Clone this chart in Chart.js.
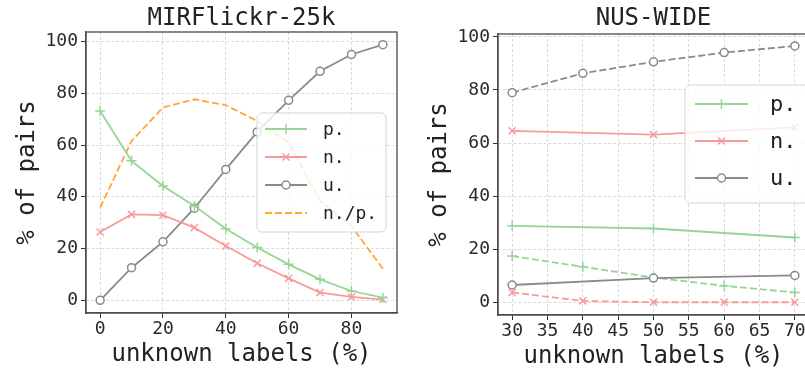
<!DOCTYPE html>
<html>
<head>
<meta charset="utf-8">
<script src="https://cdn.jsdelivr.net/npm/chart.js@4.4.1/dist/chart.umd.min.js"></script>
<style>
  html, body { margin: 0; padding: 0; background: #fff; overflow: hidden; }
  #wrap { position: relative; width: 805px; height: 371px; overflow: hidden; }
  .box { position: absolute; top: 0; width: 483px; height: 371px; }
  #leftBox { left: 0; }
  #rightBox { left: 412px; }
</style>
</head>
<body>
<div id="wrap">
  <div class="box" id="leftBox"><canvas id="mirChart"></canvas></div>
  <div class="box" id="rightBox"><canvas id="nusChart"></canvas></div>
</div>
<script>
// MIRFlickr-25k
const mirX = [0, 10, 20, 30, 40, 50, 60, 70, 80, 90];
const mirPos = [73.2, 53.9, 44.2, 36.5, 27.7, 20.4, 13.9, 8.1, 3.6, 1.0];
const mirNeg = [26.4, 33.2, 32.9, 28.1, 21.0, 14.3, 8.5, 3.0, 1.3, 0.3];
const mirUnk = [0, 12.6, 22.6, 35.6, 50.6, 65.1, 77.3, 88.5, 95.0, 98.8];
const mirRatio = [35.8, 61.6, 74.5, 77.7, 75.4, 69.3, 61.0, 38.4, 28.7, 12.2];
const mirXTicks = [0, 20, 40, 60, 80];

// NUS-WIDE
const nusXSolid = [30, 50, 70];
const nusXDash = [30, 40, 50, 60, 70];
const nusPos = [28.8, 27.8, 24.4];
const nusNeg = [64.6, 63.2, 65.9];
const nusUnk = [6.5, 9.1, 10.1];
const nusPosDash = [17.4, 13.4, 9.3, 6.2, 3.7];
const nusNegDash = [3.7, 0.5, 0, 0, 0];
const nusUnkDash = [79.0, 86.3, 90.6, 94.1, 96.6];
const nusXTicks = [30, 35, 40, 45, 50, 55, 60, 65, 70];

const yTicks = [0, 20, 40, 60, 80, 100];

const GREEN = '#96d596';
const RED = '#f99a9a';
const GRAY = '#8a8a8a';
const ORANGE = '#ffa733';
const FONT = '"DejaVu Sans Mono", monospace';

Chart.defaults.font.family = FONT;
Chart.defaults.color = '#2a2a2a';

const pts = (xs, ys) => xs.map((x, i) => ({ x: x, y: ys[i] }));

function series(label, xs, ys, color, marker, dashed, inLegend) {
    return {
        label: label,
        data: pts(xs, ys),
        borderColor: color,
        borderWidth: 1.8,
        borderDash: dashed ? [7, 3] : [],
        pointStyle: marker || 'circle',
        pointRadius: marker ? (marker === 'circle' ? 4 : 5) : 0,
        pointBorderWidth: 1.5,
        pointBorderColor: color,
        pointBackgroundColor: '#fff',
        tension: 0,
        inLegend: inLegend
    };
}

// box spines + legend drawn inside the plot, like matplotlib
const frameLegend = {
    id: 'frameLegend',
    afterDatasetsDraw(chart, args, opts) {
        const { ctx, chartArea: a } = chart;
        ctx.save();
        ctx.setLineDash([]);
        ctx.strokeStyle = '#4a4a4a';
        ctx.lineWidth = 1.3;
        ctx.strokeRect(a.left, a.top, a.right - a.left, a.bottom - a.top);

        ctx.beginPath();
        ctx.roundRect(opts.x, opts.y, opts.w, opts.h, 5);
        ctx.fillStyle = 'rgba(255,255,255,0.8)';
        ctx.fill();
        ctx.strokeStyle = '#d4d4d4';
        ctx.lineWidth = 1;
        ctx.stroke();

        ctx.font = opts.fontSize + 'px ' + FONT;
        ctx.textBaseline = 'middle';
        ctx.textAlign = 'left';
        chart.data.datasets.filter(d => d.inLegend).forEach((ds, i) => {
            const y = opts.firstRow + i * opts.rowGap;
            ctx.setLineDash(ds.borderDash);
            ctx.strokeStyle = ds.borderColor;
            ctx.lineWidth = ds.borderWidth;
            ctx.beginPath();
            ctx.moveTo(opts.lineX, y);
            ctx.lineTo(opts.lineX + opts.lineLen, y);
            ctx.stroke();
            ctx.setLineDash([]);
            if (ds.pointRadius > 0) {
                ctx.fillStyle = ds.pointBackgroundColor;
                ctx.strokeStyle = ds.pointBorderColor;
                ctx.lineWidth = ds.pointBorderWidth;
                Chart.helpers.drawPoint(ctx, {
                    pointStyle: ds.pointStyle,
                    radius: ds.pointRadius,
                    borderWidth: ds.pointBorderWidth,
                    rotation: 0
                }, opts.lineX + opts.lineLen / 2, y);
            }
            ctx.fillStyle = '#222';
            ctx.fillText(ds.label, opts.textX, y + 1);
        });
        ctx.restore();
    }
};

function makeOptions(cfg) {
    return {
        responsive: true,
        maintainAspectRatio: false,
        animation: false,
        layout: { padding: 0 },
        plugins: {
            legend: { display: false },
            tooltip: { enabled: false },
            title: {
                display: true,
                text: cfg.title,
                color: '#222',
                font: { size: 24, weight: 'normal', lineHeight: 1 },
                padding: { top: 7, bottom: cfg.titleBottom }
            },
            frameLegend: cfg.legend
        },
        scales: {
            x: {
                type: 'linear',
                min: cfg.xMin,
                max: cfg.xMax,
                afterBuildTicks: s => { s.ticks = cfg.xTicks.map(v => ({ value: v })); },
                afterFit: s => { s.height = cfg.xHeight; },
                grid: { color: '#dadada', lineWidth: 1, tickColor: '#333', tickLength: 5 },
                border: { color: '#4a4a4a', width: 1.3, dash: [3, 2] },
                ticks: { font: { size: 18 }, color: '#2a2a2a', padding: 1, autoSkip: false, maxRotation: 0 },
                title: {
                    display: true,
                    text: 'unknown labels (%)',
                    color: '#222',
                    font: { size: 24, lineHeight: 1 },
                    padding: { top: 0, bottom: cfg.xTitlePad }
                }
            },
            y: {
                min: cfg.yMin,
                max: cfg.yMax,
                afterBuildTicks: s => { s.ticks = yTicks.map(v => ({ value: v })); },
                afterFit: s => { s.width = 86; },
                grid: { color: '#dadada', lineWidth: 1, tickColor: '#333', tickLength: 5 },
                border: { color: '#4a4a4a', width: 1.3, dash: [3, 2] },
                ticks: { font: { size: 18 }, color: '#2a2a2a', padding: 3 },
                title: {
                    display: true,
                    text: '% of pairs',
                    color: '#222',
                    font: { size: 24, lineHeight: 1 },
                    padding: { top: 16, bottom: 0 }
                }
            },
            // empty right-hand axis so the title centres over the plot
            spacer: {
                position: 'right',
                afterFit: s => { s.width = 86; },
                grid: { display: false },
                border: { display: false },
                ticks: { display: false }
            }
        }
    };
}

new Chart(document.getElementById('mirChart'), {
    type: 'line',
    data: {
        datasets: [
            series('p.', mirX, mirPos, GREEN, 'cross', false, true),
            series('n.', mirX, mirNeg, RED, 'crossRot', false, true),
            series('u.', mirX, mirUnk, GRAY, 'circle', false, true),
            series('n./p.', mirX, mirRatio, ORANGE, null, true, true)
        ]
    },
    options: makeOptions({
        title: 'MIRFlickr-25k',
        titleBottom: 1,
        xMin: -4.5, xMax: 94.5, xTicks: mirXTicks,
        yMin: -4.9, yMax: 103.7,
        xHeight: 58, xTitlePad: 4,
        legend: { x: 257, y: 113, w: 129, h: 119, firstRow: 129, rowGap: 28,
                  lineX: 265, lineLen: 42, textX: 323, fontSize: 18 }
    }),
    plugins: [frameLegend]
});

new Chart(document.getElementById('nusChart'), {
    type: 'line',
    data: {
        datasets: [
            series('p.', nusXSolid, nusPos, GREEN, 'cross', false, true),
            series('n.', nusXSolid, nusNeg, RED, 'crossRot', false, true),
            series('u.', nusXSolid, nusUnk, GRAY, 'circle', false, true),
            series('p.', nusXDash, nusPosDash, GREEN, 'cross', true, false),
            series('n.', nusXDash, nusNegDash, RED, 'crossRot', true, false),
            series('u.', nusXDash, nusUnkDash, GRAY, 'circle', true, false)
        ]
    },
    options: makeOptions({
        title: 'NUS-WIDE',
        titleBottom: 3,
        xMin: 28, xMax: 72, xTicks: nusXTicks,
        yMin: -4.8, yMax: 101.1,
        xHeight: 56, xTitlePad: 2,
        legend: { x: 273, y: 85, w: 150, h: 118, firstRow: 104, rowGap: 37,
                  lineX: 283, lineLen: 53, textX: 358, fontSize: 22 }
    }),
    plugins: [frameLegend]
});
</script>
</body>
</html>
